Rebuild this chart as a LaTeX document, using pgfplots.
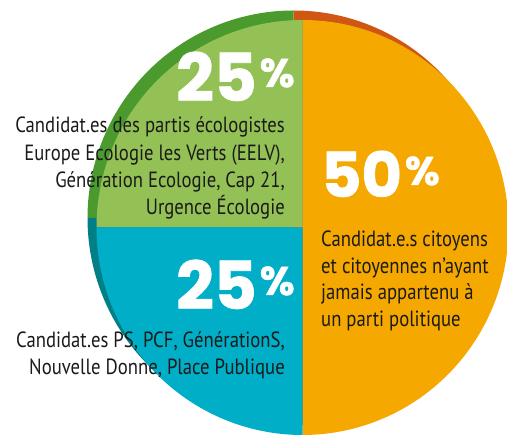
\documentclass[border=0pt]{standalone}
\usepackage{pgfplots}
\pgfplotsset{compat=1.18}
\usepackage{pgfplotstable}
\usepackage{fontspec}
\setmainfont{PT Sans}[FakeStretch=0.85]
\newfontfamily\bignum{Poppins}[BoldFeatures={FakeBold=1.2}]
\definecolor{pieorange}{RGB}{245,168,0}
\definecolor{piegreen}{RGB}{148,193,85}
\definecolor{pieblue}{RGB}{0,174,199}
\definecolor{darkorange}{RGB}{208,86,20}
\definecolor{darkgreen}{RGB}{74,154,46}
\definecolor{darkteal}{RGB}{0,128,134}
\definecolor{txt}{RGB}{26,26,26}
\newcommand{\pct}[1]{\hspace{3pt}\raisebox{#1}{\fontsize{40}{40}\selectfont\%}}

\pgfplotstableread[col sep=comma]{
share,label
50,citoyens
25,ecologistes
25,gauche
}\piedata

\begin{document}
\begin{tikzpicture}
\pgfplotstablegetelem{0}{share}\of\piedata \edef\va{\pgfplotsretval}
\pgfplotstablegetelem{1}{share}\of\piedata \edef\vb{\pgfplotsretval}
\pgfplotstablegetelem{2}{share}\of\piedata \edef\vc{\pgfplotsretval}
\pgfmathsetmacro{\aA}{90-3.6*\va}
\pgfmathsetmacro{\aB}{90+3.6*\vb}
\pgfmathsetmacro{\aC}{90+3.6*(\vb+\vc)}
\begin{axis}[x=1pt,y=1pt,xmin=0,xmax=507,ymin=0,ymax=436,
  hide axis, clip=true, anchor=south west, at={(0,0)}]
% shadow (darker, offset)
\fill[darkorange,overlay] (293.5,218) -- +(90:206pt and 207.5pt) arc[start angle=90,end angle=\aA,x radius=206pt,y radius=207.5pt] -- cycle;
\fill[darkgreen,overlay] (293.5,218) -- +(90:206pt and 207.5pt) arc[start angle=90,end angle=\aB,x radius=206pt,y radius=207.5pt] -- cycle;
\fill[darkteal,overlay] (293.5,218) -- +(\aB:206pt and 207.5pt) arc[start angle=\aB,end angle=\aC,x radius=206pt,y radius=207.5pt] -- cycle;
% main slices
\fill[pieorange,overlay] (302.5,208.5) -- +(90:206pt and 207.5pt) arc[start angle=90,end angle=\aA,x radius=206pt,y radius=207.5pt] -- cycle;
\fill[piegreen,overlay] (302.5,208.5) -- +(90:206pt and 207.5pt) arc[start angle=90,end angle=\aB,x radius=206pt,y radius=207.5pt] -- cycle;
\fill[pieblue,overlay] (302.5,208.5) -- +(\aB:206pt and 207.5pt) arc[start angle=\aB,end angle=\aC,x radius=206pt,y radius=207.5pt] -- cycle;
% big numbers
\begin{scope}[every node/.style={inner sep=0,text=white,font=\bignum\bfseries\fontsize{66}{66}\selectfont}]
\node[anchor=base west] at (176,335) {25\pct{14pt}};
\node[anchor=base west] at (176,127) {25\pct{14pt}};
\node[anchor=base west,font=\bignum\bfseries\fontsize{62}{62}\selectfont] at (321,239) {50\pct{12pt}};
\end{scope}
% labels
\begin{scope}[every node/.style={inner sep=0,text=txt,font=\fontsize{22}{27}\selectfont}]
\node[anchor=base east] at (285,303) {Candidat.es des partis écologistes};
\node[anchor=base east] at (285,275) {Europe Ecologie les Verts (EELV),};
\node[anchor=base east] at (285,248) {Génération Ecologie, Cap 21,};
\node[anchor=base east] at (285,221) {Urgence Écologie};
\node[anchor=base west] at (321,189) {Candidat.e.s citoyens};
\node[anchor=base west] at (321,162.5) {et citoyennes n’ayant};
\node[anchor=base west] at (321,136) {jamais appartenu à};
\node[anchor=base west] at (321,109.5) {un parti politique};
\node[anchor=base east] at (285,88) {Candidat.es PS, PCF, GénérationS,};
\node[anchor=base east] at (285,61) {Nouvelle Donne, Place Publique};
\end{scope}
\end{axis}
\pgfresetboundingbox
\path[use as bounding box] (0,0) rectangle (507pt,436pt);
\end{tikzpicture}
\end{document}
